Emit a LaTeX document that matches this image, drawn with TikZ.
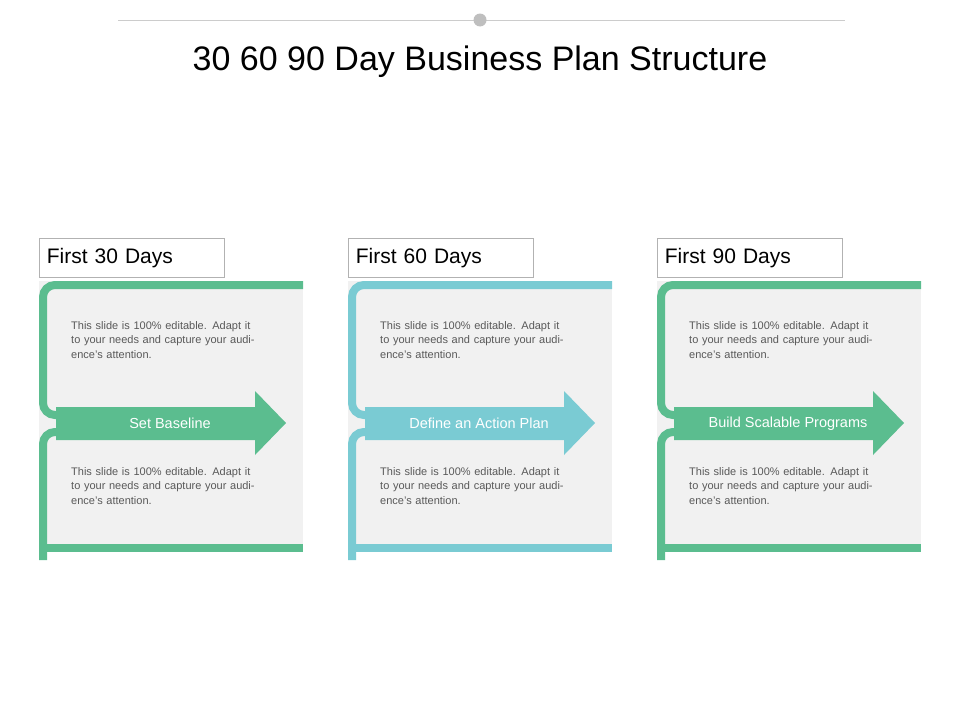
\documentclass[tikz,border=0pt]{standalone}
\usepackage{fontspec}
\setmainfont{Liberation Sans}
\definecolor{grn}{HTML}{5BBD8F}
\definecolor{teal}{HTML}{7ACBD3}
\definecolor{pbg}{HTML}{F1F1F1}
\definecolor{btxt}{HTML}{595959}
\begin{document}
\begin{tikzpicture}[x=1pt,y=-1pt,
  hdr/.style={draw=black!30,line width=0.8,minimum width=185,minimum height=39,anchor=north west,inner sep=0,font=\fontsize{21}{25}\selectfont,text width=170,align=left},
  body/.style={anchor=north west,inner sep=0,text width=190,align=left,text=btxt,font=\fontsize{11}{14.5}\selectfont},
  lbl/.style={text=white,font=\fontsize{14.5}{17}\selectfont,inner sep=0}]
\useasboundingbox (0,0) rectangle (960,720);
\draw[black!20,line width=1] (118,20) -- (845,20);
\fill[black!25] (480,20) circle (6.5);
\node (title) at (480,62) {\fontsize{34}{40}\selectfont 30 60 90 Day Business Plan Structure};
\foreach \i/\dx/\c/\h/\t in {1/0/grn/First 30 Days/Set Baseline,2/309/teal/First 60 Days/Define an Action Plan,3/618/grn/First 90 Days/Build Scalable Programs}{
  \begin{scope}[xshift=\dx]
  \node[hdr] (h\i) at (39,238) {\h};
  \fill[pbg] (39,281) rectangle (303,552);
  \draw[\c,line width=8,rounded corners=12] (303,285) -- (43,285) -- (43,415) -- (60,415);
  \draw[\c,line width=8,rounded corners=12] (60,432) -- (43,432) -- (43,560);
  \draw[\c,line width=8] (39,548) -- (303,548);
  \fill[\c] (56,407) -- (255,407) -- (255,391) -- (286,423) -- (255,455) -- (255,440) -- (56,440) -- cycle;
  \node[lbl] (a\i) at (170,423.5) {\t};
  \node[body] (t\i) at (71,321) {This slide is 100\% editable. Adapt it to your needs and capture your audience's attention.};
  \node[body] (b\i) at (71,467) {This slide is 100\% editable. Adapt it to your needs and capture your audience's attention.};
  \end{scope}
}
\end{tikzpicture}
\end{document}
